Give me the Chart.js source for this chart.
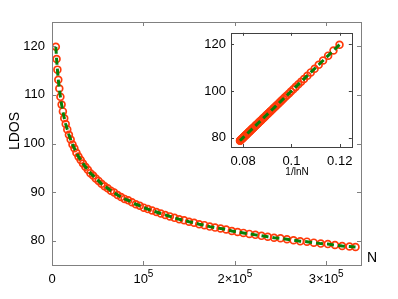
<!DOCTYPE html>
<html>
  <head>
    <meta charset="UTF-8">
    <title>LDOS vs N</title>
    <script src="https://cdn.jsdelivr.net/npm/chart.js@4.4.1/dist/chart.umd.min.js"></script>
    <style type="text/css">
      body { margin: 0; background: #fff; }
      #wrap { position: relative; width: 398px; height: 299px; }
      #inset { position: absolute; left: 195px; top: 20px; }
    </style>
  </head>
  <body>
    <div id="wrap">
      <canvas id="mainChart" width="398" height="299"></canvas>
      <canvas id="inset" width="165" height="165"></canvas>
    </div>
    <script>
    // system size N
    var N = [4200, 5000, 5900, 6900, 8000, 9200, 10500, 11900, 13400, 15000,
      16700, 18500, 20400, 22400, 24500, 26700, 29000, 31400, 33900, 36500,
      39200, 42000, 44900, 47900, 51000, 54200, 57500, 60900, 64400, 68000,
      71700, 75500, 79400, 83400, 87500, 91700, 96000, 100400, 104900, 109500,
      114200, 119000, 123900, 128900, 134000, 139200, 144500, 149900, 155400, 161000,
      166700, 172500, 178400, 184400, 190500, 196700, 203000, 209400, 215900, 222500,
      229200, 236000, 242900, 249900, 257000, 264200, 271500, 278900, 286400, 294000,
      301700, 309500, 317400, 325400, 332000];
    // LDOS
    var ldos = [119.9, 117.4, 115.2, 113.1, 111.3, 109.6, 108.0, 106.6, 105.2, 104.0,
      102.9, 101.8, 100.8, 99.8, 99.0, 98.1, 97.3, 96.6, 95.9, 95.2,
      94.6, 93.9, 93.4, 92.8, 92.3, 91.7, 91.2, 90.8, 90.3, 89.9,
      89.4, 89.0, 88.6, 88.3, 87.9, 87.5, 87.2, 86.8, 86.5, 86.2,
      85.9, 85.6, 85.3, 85.0, 84.7, 84.4, 84.2, 83.9, 83.7, 83.4,
      83.2, 82.9, 82.7, 82.5, 82.3, 82.0, 81.8, 81.6, 81.4, 81.2,
      81.0, 80.8, 80.6, 80.5, 80.3, 80.1, 79.9, 79.8, 79.6, 79.4,
      79.3, 79.1, 78.9, 78.8, 78.7];
    // 1/lnN for the inset
    var invLnN = [0.1199, 0.1174, 0.1152, 0.1131, 0.1113, 0.1096, 0.1080, 0.1066, 0.1052, 0.1040,
      0.1029, 0.1018, 0.1008, 0.0998, 0.0990, 0.0981, 0.0973, 0.0966, 0.0959, 0.0952,
      0.0946, 0.0939, 0.0934, 0.0928, 0.0923, 0.0917, 0.0912, 0.0908, 0.0903, 0.0899,
      0.0894, 0.0890, 0.0886, 0.0883, 0.0879, 0.0875, 0.0872, 0.0868, 0.0865, 0.0862,
      0.0859, 0.0856, 0.0853, 0.0850, 0.0847, 0.0844, 0.0842, 0.0839, 0.0837, 0.0834,
      0.0832, 0.0829, 0.0827, 0.0825, 0.0823, 0.0820, 0.0818, 0.0816, 0.0814, 0.0812,
      0.0810, 0.0808, 0.0806, 0.0805, 0.0803, 0.0801, 0.0799, 0.0798, 0.0796, 0.0794,
      0.0793, 0.0791, 0.0789, 0.0788, 0.0787];

    var mainXTicks = [0, 100000, 200000, 300000];
    // tick label = base text + superscript exponent
    var mainXBase = ["0", "10", "2\u00d710", "3\u00d710"];
    var mainXExp = ["", "5", "5", "5"];
    var mainYTicks = [80, 90, 100, 110, 120];
    var insetXTicks = [0.08, 0.1, 0.12];
    var insetXLabels = ["0.08", "0.1", "0.12"];
    var insetYTicks = [80, 100, 120];

    var FONT = "'Liberation Sans', Arial, sans-serif";
    var RED = "#ff3a0a";
    var GREEN = "#088008";

    var mainPts = [], insetPts = [];
    for (var i = 0; i < N.length; i++) {
      mainPts.push({x: N[i], y: ldos[i]});
      insetPts.push({x: invLnN[i], y: ldos[i]});
    }

    function fixedTicks(values) {
      return function(scale) {
        scale.ticks = values.map(function(v) { return {value: v}; });
      };
    }

    // box + inward ticks on all four sides
    function framePlugin(color, tickLen) {
      return {
        id: 'frame',
        afterDraw: function(chart) {
          var ctx = chart.ctx, a = chart.chartArea;
          var sx = chart.scales.x, sy = chart.scales.y;
          ctx.save();
          ctx.strokeStyle = color;
          ctx.lineWidth = 1;
          ctx.strokeRect(Math.round(a.left) + 0.5, Math.round(a.top) + 0.5,
                         Math.round(a.right - a.left), Math.round(a.bottom - a.top));
          ctx.beginPath();
          sx.ticks.forEach(function(t) {
            var px = Math.round(sx.getPixelForValue(t.value)) + 0.5;
            ctx.moveTo(px, a.bottom); ctx.lineTo(px, a.bottom - tickLen);
            ctx.moveTo(px, a.top); ctx.lineTo(px, a.top + tickLen);
          });
          sy.ticks.forEach(function(t) {
            var py = Math.round(sy.getPixelForValue(t.value)) + 0.5;
            ctx.moveTo(a.left, py); ctx.lineTo(a.left + tickLen, py);
            ctx.moveTo(a.right, py); ctx.lineTo(a.right - tickLen, py);
          });
          ctx.stroke();
          ctx.restore();
        }
      };
    }

    // x tick labels with a real superscript exponent
    var powerLabels = {
      id: 'powerLabels',
      afterDraw: function(chart) {
        var ctx = chart.ctx, sx = chart.scales.x, a = chart.chartArea;
        var base = a.bottom + 18;
        ctx.save();
        ctx.fillStyle = "#000";
        ctx.textBaseline = "alphabetic";
        ctx.textAlign = "left";
        mainXTicks.forEach(function(v, i) {
          ctx.font = "13px " + FONT;
          var w1 = ctx.measureText(mainXBase[i]).width;
          ctx.font = "10px " + FONT;
          var w2 = mainXExp[i] ? ctx.measureText(mainXExp[i]).width : 0;
          var x0 = sx.getPixelForValue(v) - (w1 + w2) / 2;
          ctx.font = "13px " + FONT;
          ctx.fillText(mainXBase[i], x0, base);
          if (mainXExp[i]) {
            ctx.font = "10px " + FONT;
            ctx.fillText(mainXExp[i], x0 + w1, base - 6);
          }
        });
        ctx.restore();
      }
    };

    function textPlugin(items) {
      return {
        id: 'labels',
        afterDraw: function(chart) {
          var ctx = chart.ctx;
          items.forEach(function(it) {
            ctx.save();
            ctx.fillStyle = "#000";
            ctx.font = it.size + "px " + FONT;
            ctx.textAlign = "center";
            ctx.textBaseline = "middle";
            ctx.translate(it.x, it.y);
            if (it.rot) ctx.rotate(it.rot);
            ctx.fillText(it.text, 0, 0);
            ctx.restore();
          });
        }
      };
    }

    function datasets(pts) {
      return [{
        label: 'fit',
        data: pts,
        showLine: true,
        borderColor: GREEN,
        borderWidth: 3,
        borderDash: [7, 4],
        pointRadius: 0,
        order: 0
      }, {
        label: 'LDOS',
        data: pts,
        showLine: false,
        pointRadius: 3.4,
        pointBorderWidth: 1.7,
        pointBorderColor: RED,
        pointBackgroundColor: 'rgba(255,255,255,0)',
        order: 1
      }];
    }

    Chart.defaults.font.family = FONT;
    Chart.defaults.color = "#000";

    new Chart(document.getElementById('mainChart').getContext('2d'), {
      type: 'scatter',
      data: { datasets: datasets(mainPts) },
      options: {
        responsive: false,
        animation: false,
        events: [],
        layout: { padding: { left: 0, top: 22, right: 37, bottom: 0 } },
        plugins: { legend: { display: false }, tooltip: { enabled: false } },
        scales: {
          x: {
            type: 'linear', min: 0, max: 338000,
            grid: { display: false, drawTicks: false },
            border: { display: false },
            afterBuildTicks: fixedTicks(mainXTicks),
            afterFit: function(s) { s.height = 34; },
            ticks: { display: false }
          },
          y: {
            type: 'linear', min: 75, max: 125,
            grid: { display: false, drawTicks: false },
            border: { display: false },
            afterBuildTicks: fixedTicks(mainYTicks),
            afterFit: function(s) { s.width = 52; },
            ticks: { autoSkip: false, padding: 7, font: { size: 13 } }
          }
        }
      },
      plugins: [framePlugin('#808080', 4), powerLabels, textPlugin([
        { text: 'LDOS', x: 15, y: 131, size: 14, rot: -Math.PI / 2 },
        { text: 'N', x: 372, y: 258, size: 14 }
      ])]
    });

    new Chart(document.getElementById('inset').getContext('2d'), {
      type: 'scatter',
      data: { datasets: datasets(insetPts) },
      options: {
        responsive: false,
        animation: false,
        events: [],
        layout: { padding: { left: 0, top: 7, right: 6, bottom: 0 } },
        plugins: { legend: { display: false }, tooltip: { enabled: false } },
        scales: {
          x: {
            type: 'linear', min: 0.075, max: 0.125,
            grid: { display: false, drawTicks: false },
            border: { display: false },
            afterBuildTicks: fixedTicks(insetXTicks),
            afterFit: function(s) { s.height = 38; },
            ticks: {
              autoSkip: false, maxRotation: 0, padding: 7, font: { size: 13 },
              callback: function(v, i) { return insetXLabels[i]; }
            }
          },
          y: {
            type: 'linear', min: 76, max: 125,
            grid: { display: false, drawTicks: false },
            border: { display: false },
            afterBuildTicks: fixedTicks(insetYTicks),
            afterFit: function(s) { s.width = 36; },
            ticks: { autoSkip: false, padding: 5, font: { size: 13 } }
          }
        }
      },
      plugins: [framePlugin('#404040', 3), textPlugin([
        { text: '1/lnN', x: 102, y: 152, size: 10 }
      ])]
    });
    </script>
  </body>
</html>
